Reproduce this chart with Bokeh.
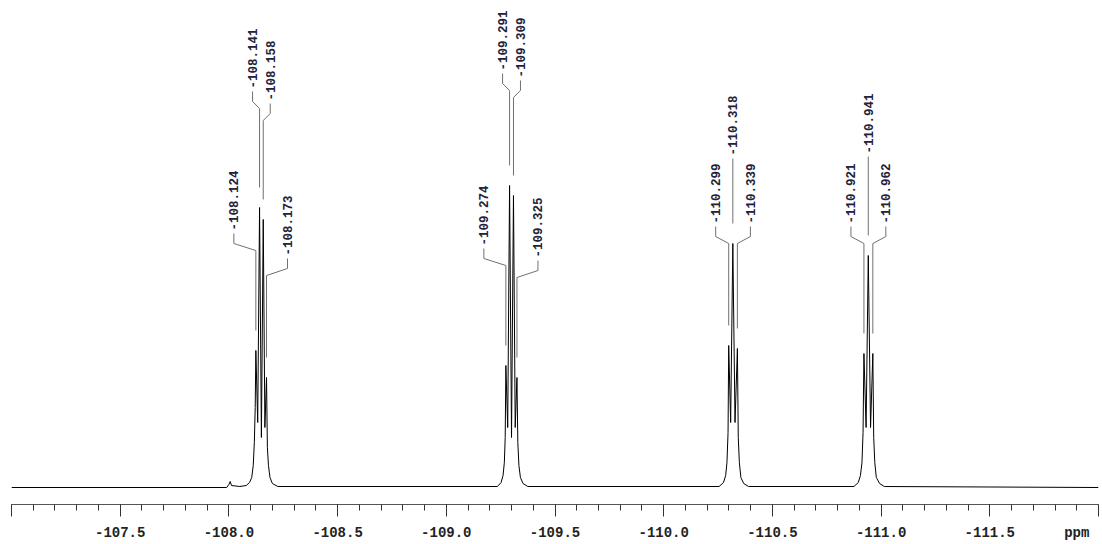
import numpy as np
from bokeh.plotting import figure
from bokeh.models import (Range1d, FixedTicker, CustomJSTickFormatter, ColumnDataSource,
                          LinearAxis)
from bokeh.core.properties import value
from bokeh.embed import file_html
from bokeh.resources import INLINE

# ---------------- data ----------------
peak_ppm = [-108.124, -108.141, -108.158, -108.173,
            -109.274, -109.291, -109.309, -109.325,
            -110.299, -110.318, -110.339,
            -110.921, -110.941, -110.962]
peak_height = [137, 280, 268, 110,
               122, 302, 292, 110,
               142, 244, 139,
               134, 232, 134]
peak_labels = ["-108.124", "-108.141", "-108.158", "-108.173",
               "-109.274", "-109.291", "-109.309", "-109.325",
               "-110.299", "-110.318", "-110.339",
               "-110.921", "-110.941", "-110.962"]

# spectrum trace vertices (ppm, intensity)
spec_ppm = [-107.000, -107.990, -108.000, -108.006, -108.012, -108.050, -108.080,
            -108.095, -108.105, -108.112, -108.117, -108.121, -108.124, -108.1325,
            -108.141, -108.1495, -108.158, -108.1655, -108.173, -108.177, -108.182,
            -108.189, -108.200, -108.225,
            -109.235, -109.252, -109.261, -109.267, -109.271, -109.274, -109.2825,
            -109.291, -109.300, -109.309, -109.317, -109.325, -109.329, -109.334,
            -109.341, -109.353, -109.375,
            -110.255, -110.275, -110.285, -110.291, -110.296, -110.299, -110.308,
            -110.318, -110.328, -110.339, -110.343, -110.348, -110.355, -110.368,
            -110.390,
            -110.875, -110.895, -110.905, -110.912, -110.917, -110.921, -110.931,
            -110.941, -110.9515, -110.962, -110.966, -110.971, -110.978, -110.993,
            -111.015, -112.000]
spec_int = [0, 0, 3, 6, 2, 1, 2,
            5, 10, 22, 45, 80, 137, 65,
            280, 50, 268, 60, 110, 40, 22,
            10, 4, 1,
            1, 5, 12, 25, 50, 122, 60,
            302, 50, 292, 60, 110, 45, 22,
            10, 4, 1,
            1, 5, 12, 25, 55, 142, 65,
            244, 65, 139, 50, 25, 10, 4,
            1,
            1, 5, 12, 25, 55, 134, 60,
            232, 60, 134, 50, 25, 10, 4,
            1, 0]

major_ticks = [-107.0, -107.5, -108.0, -108.5, -109.0, -109.5, -110.0,
               -110.5, -111.0, -111.5, -112.0]
minor_ticks = [round(-107.0 - 0.1 * i, 1) for i in range(51)]
label_ticks = [-107.5, -108.0, -108.5, -109.0, -109.5, -110.0,
               -110.5, -111.0, -111.5, -111.9]
unit_label = "ppm"

# ---------------- layout (label placement) ----------------
FRAME_W = 1087
X_START, X_END = -107.0, -112.0
ppm_per_px = (X_START - X_END) / FRAME_W
label_dx_px = [-22, -7, 7, 21, -22, -7, 7, 21, -13, 0, 13, -13, 0, 13]
label_base = [257, 399, 387, 232, 242, 417, 410, 230, 264, 332, 264, 264, 334, 264]

p = figure(width=1102, height=544, output_backend="svg", toolbar_location=None,
           x_range=Range1d(X_START, X_END), y_range=Range1d(-17, 487),
           x_axis_location=None, y_axis_location=None,
           min_border_left=11, min_border_right=4, min_border_top=0, min_border_bottom=40)
p.background_fill_color = "white"
p.border_fill_color = "white"
p.outline_line_color = None
p.grid.visible = False

# spectrum
p.line(spec_ppm, spec_int, line_color="black", line_width=1)

# peak labels and leaders
lx = [pp - dx * ppm_per_px for pp, dx in zip(peak_ppm, label_dx_px)]
xs, ys = [], []
for pp, h, x0, lb, dx in zip(peak_ppm, peak_height, lx, label_base, label_dx_px):
    if dx == 0:
        xs.append([x0, x0])
        ys.append([lb - 3, h + 20])
    else:
        xs.append([x0, x0, pp, pp])
        ys.append([lb - 3, lb - 13, lb - 20, h + 20])
p.multi_line(xs, ys, line_color="#707070", line_width=1)

src = ColumnDataSource(dict(x=lx, y=label_base, t=peak_labels))
p.text(x="x", y="y", text="t", source=src, angle=np.pi / 2,
       text_align="left", text_baseline="middle",
       text_font=value("Liberation Mono"), text_font_style="bold",
       text_font_size="12.5px", text_color="#22223a")

# x axis: ticks
ax = LinearAxis(ticker=FixedTicker(ticks=major_ticks, minor_ticks=minor_ticks),
                formatter=CustomJSTickFormatter(code="return '';"))
ax.axis_line_color = "#555555"
ax.axis_line_width = 1
ax.major_tick_line_color = "#333333"
ax.minor_tick_line_color = "#333333"
ax.major_tick_in = 0
ax.major_tick_out = 12
ax.minor_tick_in = 0
ax.minor_tick_out = 6
ax.major_label_standoff = 0
ax.major_label_text_font_size = "1px"
p.add_layout(ax, "below")

# x axis: labels (incl. unit)
ax2 = LinearAxis(ticker=FixedTicker(ticks=label_ticks, minor_ticks=[]),
                 formatter=CustomJSTickFormatter(
                     args=dict(unit=unit_label),
                     code="return (tick < -111.7) ? unit : tick.toFixed(1);"))
ax2.axis_line_color = None
ax2.major_tick_line_color = None
ax2.minor_tick_line_color = None
ax2.major_tick_in = 0
ax2.major_tick_out = 0
ax2.minor_tick_in = 0
ax2.minor_tick_out = 0
ax2.major_label_standoff = 8
ax2.major_label_text_font = "Liberation Mono"
ax2.major_label_text_font_style = "bold"
ax2.major_label_text_font_size = "14px"
ax2.major_label_text_color = "#222222"
p.add_layout(ax2, "below")

open("out.html", "w").write(file_html(p, INLINE))
